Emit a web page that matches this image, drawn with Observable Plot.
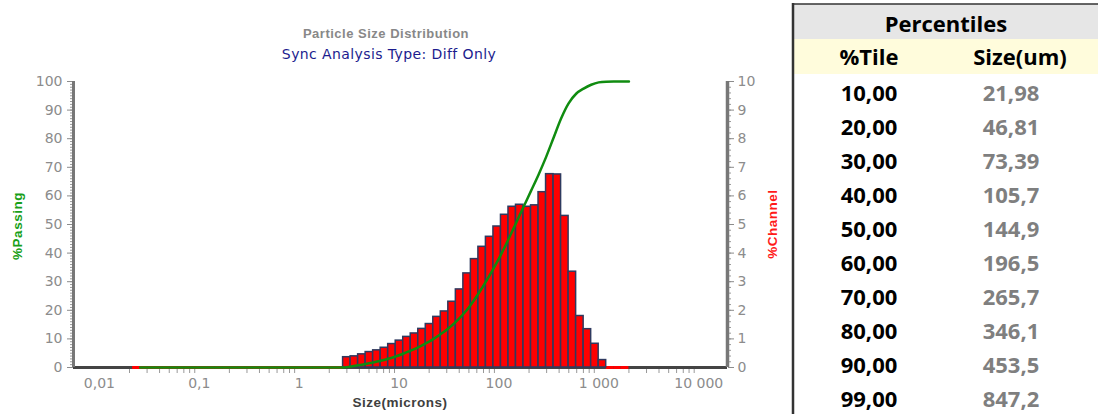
<!DOCTYPE html>
<html><head><meta charset="utf-8">
<script src="https://cdn.jsdelivr.net/npm/d3@7"></script>
<script src="https://cdn.jsdelivr.net/npm/@observablehq/plot@0.6"></script>
<style>
body{margin:0;background:#fff;}
#wrap{position:relative;width:1098px;height:414px;overflow:hidden;background:#fff;}
#chart{position:absolute;left:0;top:0;}
#overlay{position:absolute;left:0;top:0;}
</style></head><body>
<div id="wrap"><div id="chart"></div><svg id="overlay" width="1098" height="414"></svg></div>
<script>
// Channel edges (microns), ascending
const edges = [0.0215,0.0256,0.0304,0.0361,0.0430,0.0511,0.0608,0.0723,0.0859,0.1022,
  0.1215,0.1445,0.1719,0.2044,0.2431,0.2891,0.3438,0.4088,0.4861,0.5781,
  0.6875,0.8176,0.9723,1.156,1.375,1.635,1.945,2.312,2.750,3.270,
  3.889,4.625,5.500,6.540,7.778,9.250,11.00,13.08,15.56,18.50,
  22.00,26.16,31.11,37.00,44.00,52.33,62.23,74.00,88.00,104.7,
  124.5,148.0,176.0,209.3,248.9,296.0,352.0,418.6,497.8,592.0,
  704.0,837.2,995.6,1184,1408,1674,2000];
// % in each channel (right axis)
const channelPct = [0,0,0,0,0,0,0,0,0,0, 0,0,0,0,0,0,0,0,0,0, 0,0,0,0,0,0,0,0,
  0.36,0.39,0.46,0.54,0.60,0.69,0.82,0.94,1.07,1.19,
  1.35,1.52,1.77,1.96,2.30,2.73,3.29,3.79,4.22,4.57,
  4.93,5.34,5.62,5.69,5.62,5.67,6.13,6.76,6.75,5.30,
  3.35,1.80,1.34,0.83,0.26,
  0,0,0];
// % passing at each channel's upper edge (left axis)
const passingPct = [0,0,0,0,0,0,0,0,0,0, 0,0,0,0,0,0,0,0,0,0, 0,0,0,0,0,0,0,0,
  0.36,0.75,1.21,1.75,2.35,3.04,3.86,4.80,5.87,7.06,
  8.41,9.93,11.70,13.66,15.96,18.69,21.98,25.77,29.99,34.56,
  39.49,44.83,50.45,56.14,61.76,67.43,73.56,80.32,87.07,92.37,
  95.72,97.52,98.86,99.69,99.95,
  100,100,100];

const xDomain = [0.0055, 19400];
const xLabelTicks = [0.01, 0.1, 1, 10, 100, 1000, 10000];
const xTickLabels = ["0,01", "0,1", "1", "10", "100", "1 000", "10 000"];
const leftTicks = [0,10,20,30,40,50,60,70,80,90,100];
const rightTicks = [0,1,2,3,4,5,6,7,8,9,10];

const pctTiles = ["10,00","20,00","30,00","40,00","50,00","60,00","70,00","80,00","90,00","99,00"];
const pctSizes = ["21,98","46,81","73,39","105,7","144,9","196,5","265,7","346,1","453,5","847,2"];

const channels = channelPct.map((pct, i) => ({lo: edges[i], hi: edges[i + 1], pct}));
const passing = passingPct.map((p, i) => ({x: edges[i + 1], p}));

const labelMap = new Map(xLabelTicks.map((t, i) => [t, xTickLabels[i]]));
const minorX = [];
for (let k = -2; k <= 3; k++) for (let m = 2; m <= 9; m++) minorX.push(+(m * Math.pow(10, k)).toPrecision(3));

const tickColor = "#8c8c8c";
const plot = Plot.plot({
  width: 790, height: 414,
  marginLeft: 73, marginRight: 63, marginTop: 81, marginBottom: 47,
  style: {fontFamily: "DejaVu Sans", fontSize: "14px", background: "transparent", overflow: "visible"},
  x: {type: "log", domain: xDomain, axis: null, label: null},
  y: {domain: [0, 100], axis: null, label: null},
  marks: [
    Plot.axisY({ticks: d3.range(0, 101, 1), anchor: "left", tickSize: 3, tickFormat: () => "", stroke: "#999", label: null}),
    Plot.axisY({ticks: leftTicks, anchor: "left", tickSize: 6, tickPadding: 5, color: tickColor, fontSize: 14, label: null}),
    Plot.axisY({ticks: d3.range(0, 101, 2), anchor: "right", tickSize: 3, tickFormat: () => "", stroke: "#999", label: null}),
    Plot.axisY({ticks: rightTicks.map(v => v * 10), anchor: "right", tickSize: 6, tickPadding: 4, tickFormat: d => String(d / 10), color: tickColor, fontSize: 14, label: null}),
    Plot.axisX({ticks: minorX, anchor: "bottom", tickSize: 6, tickFormat: () => "", stroke: "#999", label: null}),
    Plot.axisX({ticks: xLabelTicks, anchor: "bottom", tickSize: 0, tickPadding: 11, tickFormat: d => labelMap.get(d), color: tickColor, fontSize: 14, label: null}),
    Plot.ruleY([0], {stroke: "#444", strokeWidth: 3}),
    Plot.ruleX([xDomain[0]], {stroke: "#777", strokeWidth: 3}),
    Plot.ruleX([xDomain[1]], {stroke: "#777", strokeWidth: 3.5}),
    Plot.ruleY(channels.filter(d => d.pct === 0), {x1: "lo", x2: "hi", y: 0, stroke: "#ff0000", strokeWidth: 3}),
    Plot.rect(channels.filter(d => d.pct > 0), {x1: "lo", x2: "hi", y1: 0, y2: d => d.pct * 10, fill: "#ff0000", stroke: "#2f3a5f", strokeWidth: 1.5}),
    Plot.line(passing, {x: "x", y: "p", stroke: "#108c10", strokeWidth: 2.5, curve: "monotone-x"})
  ]
});
document.getElementById("chart").appendChild(plot);

// Titles, axis labels and percentile table
const ov = d3.select("#overlay");
function txt(x, y, s, o) {
  const t = ov.append("text").attr("x", x).attr("y", y).text(s)
    .attr("font-family", o.font || "Liberation Sans").attr("font-size", o.size || 13)
    .attr("font-weight", o.weight || "normal").attr("fill", o.fill || "#000")
    .attr("text-anchor", o.anchor || "middle");
  if (o.ls) t.attr("letter-spacing", o.ls);
  if (o.rot) t.attr("transform", `rotate(${o.rot},${x},${y})`);
  return t;
}
txt(386, 38, "Particle Size Distribution", {weight: "bold", size: 13, fill: "#888", ls: 0.5});
txt(389, 59, "Sync Analysis Type: Diff Only", {font: "DejaVu Sans", size: 14, fill: "#1c1c8e", ls: 0.4});
txt(400, 407, "Size(microns)", {weight: "bold", size: 13.5, fill: "#404040", ls: 0.5});
txt(21.5, 226, "%Passing", {weight: "bold", size: 13.5, fill: "#18a018", ls: 0.5, rot: -90});
txt(777, 224, "%Channel", {weight: "bold", size: 13.5, fill: "#ff1a1a", ls: 0.5, rot: -90});

// table
ov.append("rect").attr("x", 793).attr("y", 4).attr("width", 305).attr("height", 35).attr("fill", "#e6e6e6");
ov.append("rect").attr("x", 793).attr("y", 39).attr("width", 305).attr("height", 35).attr("fill", "#fffcdc");
ov.append("line").attr("x1", 793).attr("x2", 1098).attr("y1", 4).attr("y2", 4).attr("stroke", "#333").attr("stroke-width", 1.5);
ov.append("line").attr("x1", 793).attr("x2", 793).attr("y1", 3).attr("y2", 414).attr("stroke", "#333").attr("stroke-width", 2.5);
const tf = "Open Sans";
txt(946, 32, "Percentiles", {font: tf, size: 22, weight: "bold", fill: "#000"});
txt(869, 65, "%Tile", {font: tf, size: 22, weight: "bold", fill: "#000"});
txt(1020, 65, "Size(um)", {font: tf, size: 22, weight: "bold", fill: "#000"});
pctTiles.forEach((s, i) => {
  const y = 101 + 34 * i;
  txt(869, y, s, {font: tf, size: 22, weight: "bold", fill: "#000"});
  txt(1011, y, pctSizes[i], {font: tf, size: 22, weight: "bold", fill: "#7f7f7f"});
});
</script>
</body></html>
